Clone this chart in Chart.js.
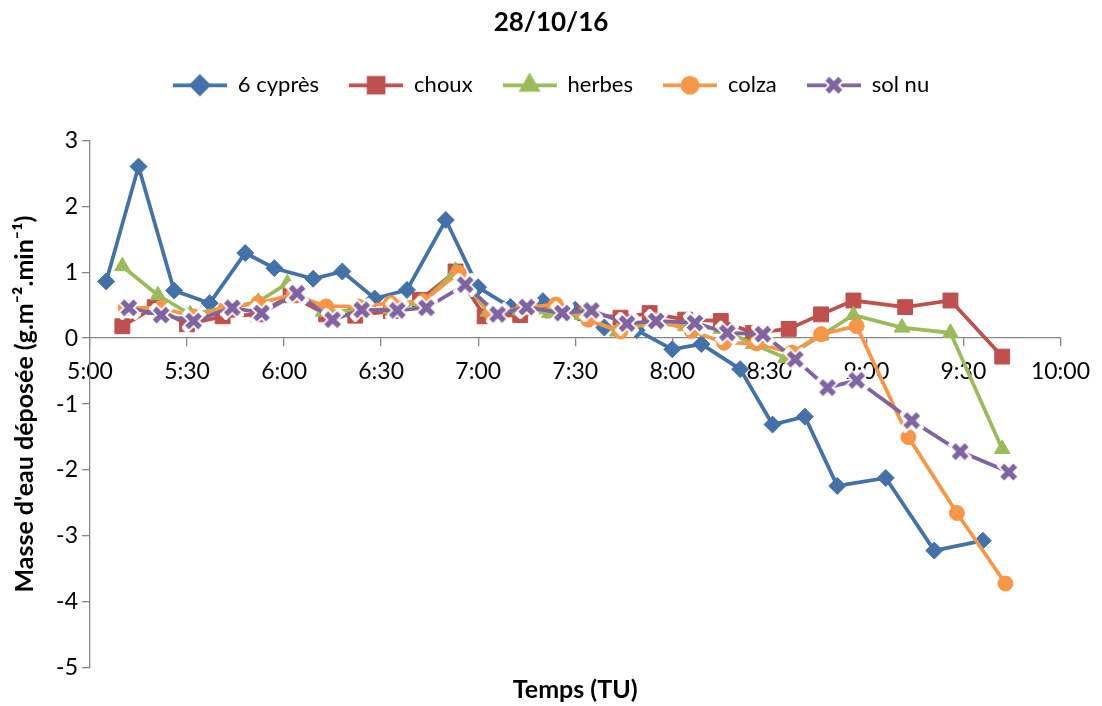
<!DOCTYPE html>
<html>
<head>
<meta charset="utf-8">
<script src="https://cdn.jsdelivr.net/npm/chart.js@4.4.0/dist/chart.umd.min.js"></script>
<style>
html, body { margin: 0; padding: 0; background: #fff; }
</style>
</head>
<body>
<canvas id="stage" width="1102" height="706"></canvas>
<script>
const tCypres = ['5:05','5:15','5:26','5:37','5:48','5:57','6:09','6:18','6:28','6:38','6:50','7:00','7:10','7:20','7:30','7:39','7:49','8:00','8:09','8:21','8:31','8:41','8:51','9:06','9:21','9:36'];
const cypres = [0.86,2.6,0.72,0.53,1.29,1.06,0.9,1.01,0.6,0.73,1.79,0.77,0.47,0.56,0.43,0.16,0.12,-0.17,-0.09,-0.47,-1.31,-1.19,-2.24,-2.12,-3.22,-3.07];

const tChoux = ['5:10','5:20','5:30','5:41','5:52','6:02','6:13','6:22','6:33','6:42','6:53','7:02','7:13','7:23','7:33','7:44','7:53','8:04','8:15','8:25','8:36','8:46','8:56','9:12','9:26','9:42'];
const choux = [0.18,0.47,0.21,0.33,0.36,0.65,0.36,0.34,0.41,0.58,1.01,0.33,0.35,0.42,0.38,0.31,0.38,0.28,0.26,0.08,0.14,0.36,0.57,0.47,0.57,-0.28];

const tHerbes = ['5:10','5:21','5:31','5:41','5:52','6:01','6:12','6:22','6:33','6:43','6:53','7:03','7:13','7:22','7:32','7:43','7:53','8:04','8:15','8:25','8:35','8:46','8:56','9:11','9:26','9:42'];
const herbes = [1.09,0.65,0.36,0.45,0.55,0.83,0.4,0.42,0.44,0.55,1.02,0.4,0.42,0.38,0.35,0.1,0.23,0.18,0.14,-0.09,-0.3,0.04,0.35,0.16,0.08,-1.68];

const tColza = ['5:11','5:22','5:32','5:42','5:52','6:03','6:13','6:23','6:33','6:43','6:54','7:04','7:14','7:24','7:34','7:44','7:55','8:06','8:16','8:26','8:37','8:46','8:57','9:13','9:28','9:43'];
const colza = [0.46,0.46,0.33,0.46,0.53,0.66,0.48,0.48,0.53,0.56,0.99,0.38,0.46,0.51,0.28,0.1,0.28,0.11,-0.07,-0.08,-0.22,0.06,0.18,-1.5,-2.65,-3.72];

const tSolNu = ['5:12','5:22','5:32','5:44','5:53','6:04','6:15','6:24','6:35','6:44','6:56','7:06','7:15','7:26','7:35','7:46','7:55','8:07','8:17','8:28','8:38','8:48','8:57','9:14','9:29','9:44'];
const solNu = [0.46,0.35,0.26,0.46,0.38,0.68,0.28,0.43,0.42,0.46,0.81,0.36,0.47,0.38,0.42,0.22,0.26,0.23,0.08,0.06,-0.32,-0.75,-0.64,-1.25,-1.72,-2.03];

const xTickLabels = ['5:00','5:30','6:00','6:30','7:00','7:30','8:00','8:30','9:00','9:30','10:00'];

const FONT = 'Lato, "Noto Sans", sans-serif';

function toMin(s) {
  const p = s.split(':');
  return Number(p[0]) * 60 + Number(p[1]);
}

function pts(times, vals) {
  return times.map((t, i) => ({ x: toMin(t), y: vals[i] }));
}

// marqueur croix (façon Excel : croix épaisse bordée de blanc)
function makeCross(color) {
  const c = document.createElement('canvas');
  c.width = 24; c.height = 24;
  const ctx = c.getContext('2d');
  const d = 6.5;
  ctx.lineCap = 'square';
  ctx.strokeStyle = '#fff';
  ctx.lineWidth = 9;
  ctx.beginPath();
  ctx.moveTo(12 - d, 12 - d); ctx.lineTo(12 + d, 12 + d);
  ctx.moveTo(12 + d, 12 - d); ctx.lineTo(12 - d, 12 + d);
  ctx.stroke();
  ctx.strokeStyle = color;
  ctx.lineWidth = 5.5;
  ctx.lineCap = 'butt';
  ctx.beginPath();
  ctx.moveTo(12 - d, 12 - d); ctx.lineTo(12 + d, 12 + d);
  ctx.moveTo(12 + d, 12 - d); ctx.lineTo(12 - d, 12 + d);
  ctx.stroke();
  return c;
}

const colors = ['#4372aa', '#c0504d', '#9bbb59', '#f79646', '#8064a2'];
const crossImg = makeCross(colors[4]);

// petite image ligne + marqueur pour la légende
function legendImg(color, style, r) {
  const c = document.createElement('canvas');
  c.width = 54; c.height = 24;
  const ctx = c.getContext('2d');
  ctx.strokeStyle = color;
  ctx.lineWidth = 3.75;
  ctx.beginPath();
  ctx.moveTo(0, 12); ctx.lineTo(54, 12);
  ctx.stroke();
  if (typeof style === 'object') {
    ctx.drawImage(style, 27 - style.width / 2, 12 - style.height / 2);
  } else {
    ctx.fillStyle = color;
    ctx.strokeStyle = color;
    Chart.helpers.drawPoint(ctx, { pointStyle: style, radius: r, borderWidth: 1, rotation: 0 }, 27, 12);
  }
  return c;
}

const legendImgs = [
  legendImg(colors[0], 'rectRot', 8.5),
  legendImg(colors[1], 'rect', 10.5),
  legendImg(colors[2], 'triangle', 9),
  legendImg(colors[3], 'circle', 7.5),
  legendImg(colors[4], crossImg, 0)
];

function serie(label, times, vals, i, style, r) {
  return {
    label: label,
    data: pts(times, vals),
    borderColor: colors[i],
    backgroundColor: colors[i],
    borderWidth: 3.75,
    pointStyle: style,
    pointRadius: r,
    pointBorderWidth: 1,
    tension: 0,
    order: 5 - i
  };
}

const legendSpace = {
  id: 'legendSpace',
  beforeInit(chart) {
    const fit = chart.legend.fit;
    chart.legend.fit = function () {
      fit.bind(chart.legend)();
      this.height += 34;
    };
  }
};

new Chart(document.getElementById('stage'), {
  type: 'line',
  data: {
    datasets: [
      serie('6 cyprès', tCypres, cypres, 0, 'rectRot', 8.5),
      serie('choux', tChoux, choux, 1, 'rect', 10.5),
      serie('herbes', tHerbes, herbes, 2, 'triangle', 9),
      serie('colza', tColza, colza, 3, 'circle', 7.5),
      serie('sol nu', tSolNu, solNu, 4, crossImg, 8)
    ]
  },
  plugins: [legendSpace],
  options: {
    responsive: false,
    animation: false,
    devicePixelRatio: 1,
    layout: { padding: { left: 0, right: 0, top: 0, bottom: 1 } },
    plugins: {
      tooltip: { enabled: false },
      title: {
        display: true,
        text: '28/10/16',
        color: '#000',
        font: { family: FONT, size: 26, weight: 'bold' },
        padding: { top: 7, bottom: 6 }
      },
      legend: {
        labels: {
          usePointStyle: true,
          pointStyleWidth: 54,
          color: '#000',
          font: { family: FONT, size: 22 },
          padding: 30,
          sort: (a, b) => a.datasetIndex - b.datasetIndex,
          generateLabels(chart) {
            const items = Chart.defaults.plugins.legend.labels.generateLabels(chart);
            items.forEach(it => { it.pointStyle = legendImgs[it.datasetIndex]; });
            return items;
          }
        }
      }
    },
    scales: {
      x: {
        type: 'linear',
        min: 300,
        max: 600,
        position: { y: 0 },
        ticks: {
          stepSize: 30,
          autoSkip: false,
          maxRotation: 0,
          color: '#000',
          padding: 12,
          font: { family: FONT, size: 23 },
          callback: (v) => xTickLabels[(v - 300) / 30]
        },
        grid: { drawOnChartArea: false, tickLength: 8, color: '#868686', lineWidth: 1.3 },
        border: { color: '#868686', width: 1.3 }
      },
      x2: {
        type: 'linear',
        position: 'bottom',
        ticks: { display: false },
        grid: { display: false },
        border: { display: false },
        title: {
          display: true,
          text: 'Temps (TU)',
          color: '#000',
          font: { family: FONT, size: 25, weight: 'bold' },
          padding: { top: 0, bottom: 0 }
        },
        afterFit: (scale) => { scale.height = 37; }
      },
      y: {
        min: -5,
        max: 3,
        ticks: {
          stepSize: 1,
          color: '#000',
          padding: 4,
          font: { family: FONT, size: 23 }
        },
        grid: { drawOnChartArea: false, tickLength: 8, color: '#868686', lineWidth: 1.3 },
        border: { color: '#868686', width: 1.3 },
        title: {
          display: true,
          text: "Masse d'eau déposée (g.m⁻².min⁻¹)",
          color: '#000',
          font: { family: FONT, size: 25, weight: 'bold' },
          padding: { top: 10, bottom: 0 }
        },
        afterFit: (scale) => { scale.width = 90; }
      },
      y2: {
        type: 'linear',
        position: 'right',
        ticks: { display: false },
        grid: { display: false },
        border: { display: false },
        afterFit: (scale) => { scale.width = 39; }
      }
    }
  }
});
</script>
</body>
</html>
